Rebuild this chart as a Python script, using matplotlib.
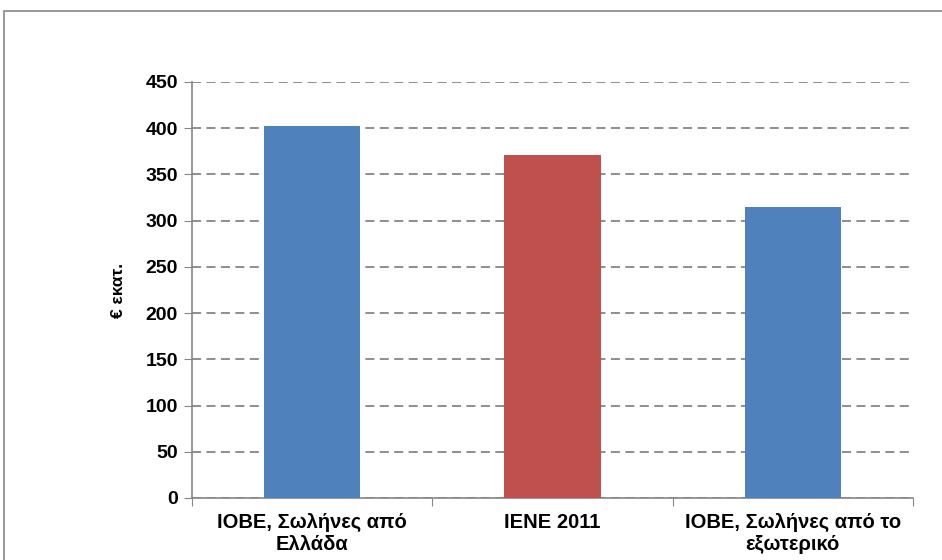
import matplotlib.pyplot as plt
from matplotlib.patches import Rectangle

plt.rcParams['font.family'] = ['Liberation Sans', 'DejaVu Sans']

categories = ['ΙΟΒΕ, Σωλήνες από\nΕλλάδα', 'ΙΕΝΕ 2011', 'ΙΟΒΕ, Σωλήνες από το\nεξωτερικό']
values = [402, 371, 315]
colors = ['#4F81BD', '#C0504D', '#4F81BD']
yticks = [0, 50, 100, 150, 200, 250, 300, 350, 400, 450]

fig = plt.figure(figsize=(9.42, 5.6), dpi=100)
# chart area border (cut off at right/bottom like the original)
fig.patches.append(Rectangle((4 / 942, -0.05), 1.0, 1 - 11 / 560 + 0.05,
                             transform=fig.transFigure, fill=False,
                             edgecolor='#868686', linewidth=1.2))

ax = fig.add_axes([192 / 942, 62 / 560, (913 - 192) / 942, (498 - 82) / 560])
x = range(len(categories))
ax.bar(x, values, width=0.4, color=colors, zorder=3)

ax.set_xlim(-0.5, 2.5)
ax.set_ylim(0, 450)
ax.set_yticks(yticks)
ax.set_xticks([-0.5, 0.5, 1.5, 2.5], minor=False)
ax.set_xticklabels([])
ax.set_xticks(list(x), minor=True)
ax.set_xticklabels(categories, minor=True, fontsize=14.5, fontweight='bold',
                   linespacing=1.2)
ax.tick_params(axis='x', which='minor', length=0, pad=11)
ax.tick_params(axis='x', which='major', length=6, color='#868686', direction='out')
ax.tick_params(axis='y', length=6, color='#868686', labelsize=14, pad=4)
for lbl in ax.get_yticklabels():
    lbl.set_fontweight('bold')

ax.yaxis.grid(True, linestyle=(0, (5, 3)), color='#868686', linewidth=1.3, zorder=0)
for s in ['top', 'right']:
    ax.spines[s].set_visible(False)
for s in ['left', 'bottom']:
    ax.spines[s].set_color('#868686')
    ax.spines[s].set_linewidth(1.2)

ax.set_ylabel('€ εκατ.', fontsize=12.5, fontweight='bold', labelpad=14)

fig.savefig('out.png', dpi=100)
